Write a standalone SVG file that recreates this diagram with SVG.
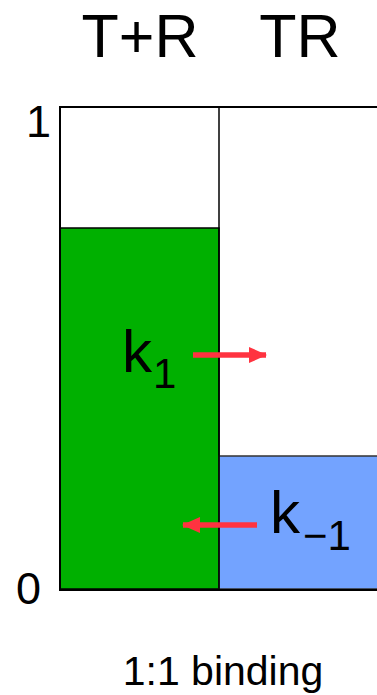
<svg xmlns="http://www.w3.org/2000/svg" width="377" height="695" viewBox="0 0 377 695">
<defs>
<style>
.t{font-family:"Liberation Sans",Arial,sans-serif;fill:#000}
.arr{stroke:#ff3340;stroke-width:5.5;fill:none}
</style>
<marker id="ah" viewBox="0 0 18 16" refX="17" refY="8" markerWidth="18" markerHeight="16" orient="auto" markerUnits="userSpaceOnUse">
<path d="M0,0 L18,8 L0,16 Z" fill="#ff3340"/>
</marker>
</defs>
<rect width="377" height="695" fill="#fff"/>
<g id="headers">
<text class="t" x="140" y="57" font-size="61" text-anchor="middle">T+R</text>
<text class="t" x="300" y="57" font-size="61" text-anchor="middle">TR</text>
</g>
<g id="axis">
<text class="t" x="26" y="137" font-size="45">1</text>
<text class="t" x="16" y="604" font-size="45">0</text>
</g>
<g id="bar-TplusR">
<rect x="60" y="228" width="159" height="361" fill="#00b000" stroke="#000" stroke-width="1.5"/>
</g>
<g id="bar-TR">
<rect x="219" y="456" width="160" height="133" fill="#73a3ff" stroke="#333" stroke-width="1.5"/>
</g>
<g id="frame">
<path d="M379,107 H60 V590 H379" fill="none" stroke="#000" stroke-width="2"/>
<line x1="219" y1="107" x2="219" y2="590" stroke="#000" stroke-width="1.5"/>
</g>
<g id="k1">
<text class="t" x="122" y="372" font-size="60">k</text>
<text class="t" x="153" y="388" font-size="42">1</text>
</g>
<g id="km1">
<text class="t" x="270" y="533" font-size="60">k</text>
<text class="t" x="303" y="550" font-size="42">−1</text>
</g>
<g id="connectors">
<line class="arr" x1="193" y1="355" x2="266" y2="355" marker-end="url(#ah)"/>
<line class="arr" x1="257" y1="525" x2="183" y2="525" marker-end="url(#ah)"/>
</g>
<g id="caption">
<text class="t" x="223" y="685" font-size="41" text-anchor="middle">1:1 binding</text>
</g>
</svg>
